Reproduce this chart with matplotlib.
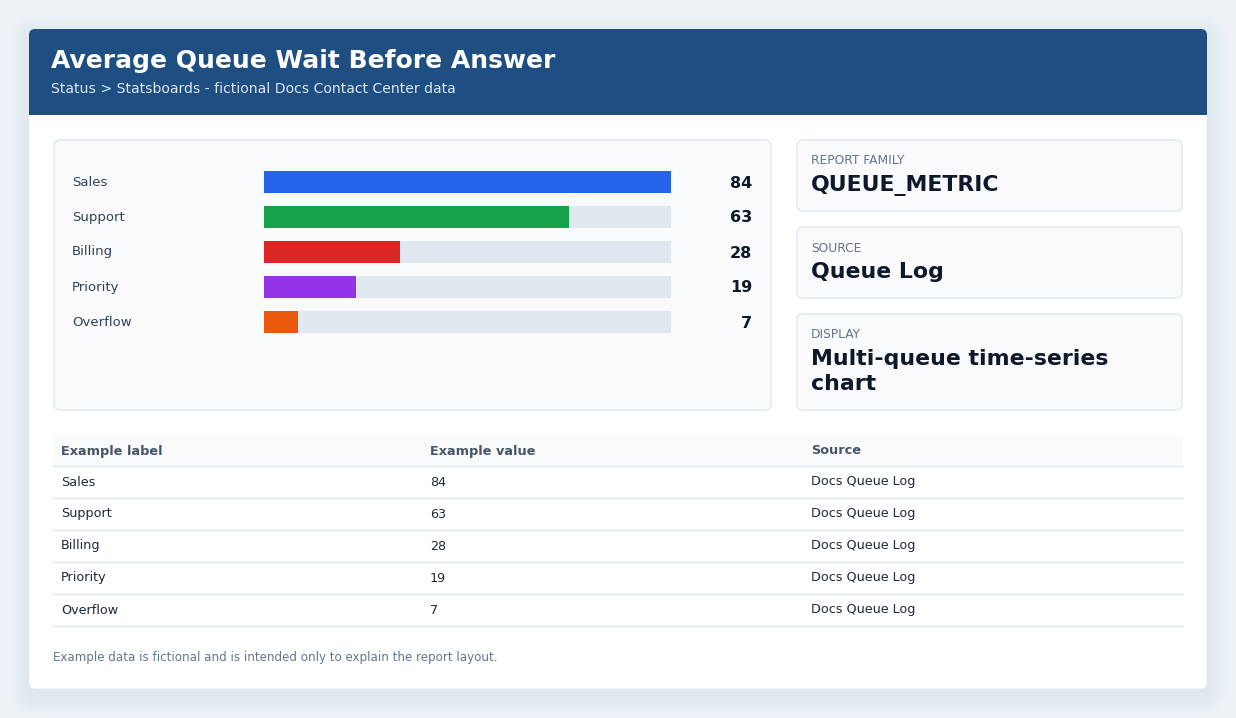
import matplotlib
matplotlib.use("Agg")
import matplotlib.pyplot as plt
from matplotlib.patches import FancyBboxPatch, Rectangle

plt.rcParams['font.family'] = ['DejaVu Sans']

# ---- data ----
title = "Average Queue Wait Before Answer"
subtitle = "Status > Statsboards - fictional Docs Contact Center data"
categories = ["Sales", "Support", "Billing", "Priority", "Overflow"]
values = [84, 63, 28, 19, 7]
bar_colors = ["#2563eb", "#16a34a", "#dc2626", "#9333ea", "#ea580c"]
info_labels = ["REPORT FAMILY", "SOURCE", "DISPLAY"]
info_values = [["QUEUE_METRIC"], ["Queue Log"], ["Multi-queue time-series", "chart"]]
table_headers = ["Example label", "Example value", "Source"]
table_sources = ["Docs Queue Log"] * 5
footer = "Example data is fictional and is intended only to explain the report layout."

W, H = 1236, 718
fig = plt.figure(figsize=(W / 100, H / 100), dpi=100)
fig.patch.set_facecolor("#eef2f7")

ax = fig.add_axes([0, 0, 1, 1])
ax.set_xlim(0, W)
ax.set_ylim(H, 0)
ax.axis("off")

def rbox(x0, y0, x1, y1, fc, ec="none", lw=0, r=6, z=1, alpha=1.0):
    p = FancyBboxPatch((x0 + r, y0 + r), (x1 - x0) - 2 * r, (y1 - y0) - 2 * r,
                       boxstyle=f"round,pad={r}", fc=fc, ec=ec, lw=lw,
                       zorder=z, alpha=alpha)
    ax.add_patch(p)
    return p

# soft shadow
for i in range(10):
    d = 20 - 2 * i
    rbox(29 - d, 29 - d + 6, 1207 + d, 689 + d + 6, fc="#94a3b8", r=8 + d, z=0.5, alpha=0.012)

# card
rbox(29, 29, 1207, 689, fc="white", ec="#e3e8ee", lw=0.6, r=6, z=1)
# header
rbox(29, 29, 1207, 115, fc="#1f4f82", r=6, z=2)
ax.add_patch(Rectangle((29, 100), 1178, 15, fc="#1f4f82", ec="none", zorder=2))
ax.text(51, 61, title, color="white", fontsize=18, fontweight="bold",
        va="center", ha="left", zorder=3)
ax.text(51, 89, subtitle, color="#dbe6f3", fontsize=10.1, va="center", ha="left", zorder=3)

# bar panel
rbox(54, 140, 771, 410, fc="#f8fafc", ec="#e2e8f0", lw=1, r=6, z=2)

row0, row_step = 182, 35
for i, (c, v) in enumerate(zip(categories, values)):
    y = row0 + i * row_step
    ax.text(72, y, c, color="#334155", fontsize=9.5, va="center", ha="left", zorder=3)
    ax.text(752, y + 1, str(v), color="#0f172a", fontsize=11.5, fontweight="bold",
            va="center", ha="right", zorder=3)

# bar axes (pixel extents -> figure fraction)
bx0, bx1 = 264, 671
by0, by1 = row0 - row_step / 2, row0 + row_step * (len(categories) - 0.5)
bax = fig.add_axes([bx0 / W, (H - by1) / H, (bx1 - bx0) / W, (by1 - by0) / H])
bax.set_xlim(0, max(values))
bax.set_ylim(len(categories) - 0.5, -0.5)
bax.axis("off")
bax.patch.set_alpha(0)
ypos = list(range(len(categories)))
bax.barh(ypos, [max(values)] * len(values), height=0.63, color="#e2e8f0", zorder=1)
bax.barh(ypos, values, height=0.63, color=bar_colors, zorder=2)

# info cards
cards = [(140, 211), (227, 298), (314, 410)]
for (y0, y1), lab, lines in zip(cards, info_labels, info_values):
    rbox(797, y0, 1182, y1, fc="#f8fafc", ec="#e2e8f0", lw=1, r=6, z=2)
    ax.text(811, y0 + 21, lab, color="#64748b", fontsize=8.8, va="center", ha="left", zorder=3)
    for k, ln in enumerate(lines):
        ax.text(811, y0 + 45 + 25 * k, ln, color="#0f172a", fontsize=15.8, fontweight="bold",
                va="center", ha="left", zorder=3)

# table
tx0, tx1 = 53, 1183
col_x = [61, 430, 811]
ax.add_patch(Rectangle((tx0, 435), tx1 - tx0, 31, fc="#f8fafc", ec="none", zorder=2))
for x, h in zip(col_x, table_headers):
    ax.text(x, 451, h, color="#475569", fontsize=9.3, fontweight="bold",
            va="center", ha="left", zorder=3)
ax.plot([tx0, tx1], [466, 466], color="#e2e8f0", lw=1, zorder=3)
for i, (c, v, s) in enumerate(zip(categories, values, table_sources)):
    yc = 482 + 32 * i
    for x, t in zip(col_x, [c, str(v), s]):
        ax.text(x, yc, t, color="#1e293b", fontsize=9.2, va="center", ha="left", zorder=3)
    ax.plot([tx0, tx1], [yc + 16, yc + 16], color="#e2e8f0", lw=1, zorder=3)

ax.text(53, 658, footer, color="#64748b", fontsize=8.6, va="center", ha="left", zorder=3)

fig.savefig("out.png", dpi=100, facecolor=fig.get_facecolor())
